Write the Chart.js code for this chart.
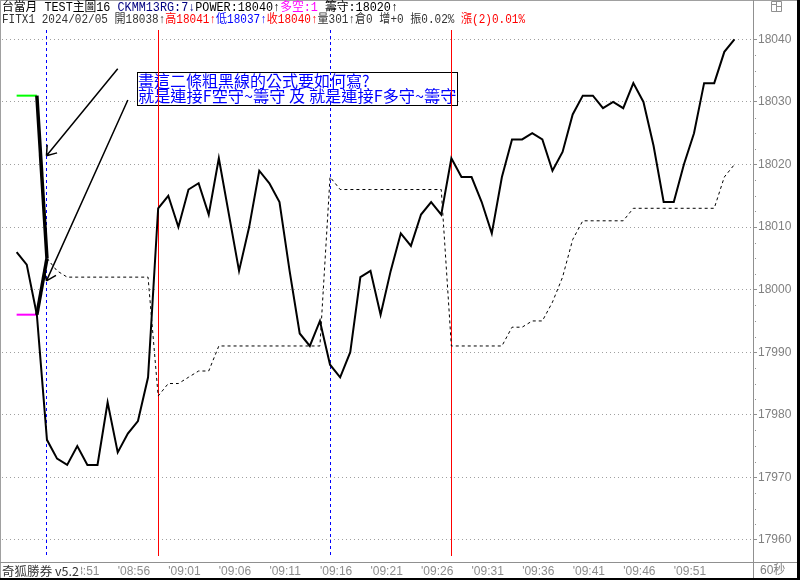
<!DOCTYPE html>
<html>
<head>
<meta charset="utf-8">
<script src="https://cdn.jsdelivr.net/npm/chart.js@4.4.1/dist/chart.umd.min.js"></script>
<style>
  html, body { margin: 0; padding: 0; background: #fff; }
  #wrap { width: 800px; height: 580px; position: relative; }
</style>
</head>
<body>
<div id="wrap"><canvas id="c" width="800" height="580"></canvas></div>
<script>
// ---------- data ----------
const times = ['08:46','08:47','08:48','08:49','08:50','08:51','08:52','08:53','08:54','08:55',
  '08:56','08:57','08:58','08:59','09:00','09:01','09:02','09:03','09:04','09:05',
  '09:06','09:07','09:08','09:09','09:10','09:11','09:12','09:13','09:14','09:15',
  '09:16','09:17','09:18','09:19','09:20','09:21','09:22','09:23','09:24','09:25',
  '09:26','09:27','09:28','09:29','09:30','09:31','09:32','09:33','09:34','09:35',
  '09:36','09:37','09:38','09:39','09:40','09:41','09:42','09:43','09:44','09:45',
  '09:46','09:47','09:48','09:49','09:50','09:51','09:52','09:53','09:54','09:55',
  '09:56','09:57'];

const closes = [18006,18004,17996,17976,17973,17972,17975,17972,17972,17982,
  17974,17977,17979,17986,18013,18015,18010,18016,18017,18012,
  18021,18012,18003,18010,18019,18017,18014,18003,17993,17991,
  17995,17988,17986,17990,18002,18003,17996,18003,18009,18007,
  18012,18014,18012,18021,18018,18018,18014,18009,18018,18024,
  18024,18025,18024,18019,18022,18028,18031,18031,18029,18030,
  18029,18033,18030,18023,18014,18014,18020,18025,18033,18033,
  18038,18040];

// 籌守 line (dashed)
const chipStop = [null,null,null,18005,18003,18002,18002,18002,18002,18002,
  18002,18002,18002,18002,17983,17985,17985,17986,17987,17987,
  17991,17991,17991,17991,17991,17991,17991,17991,17991,17991,
  17991,18018,18016,18016,18016,18016,18016,18016,18016,18016,
  18016,18016,18016,17991,17991,17991,17991,17991,17991,17994,
  17994,17995,17995,17998,18002,18008,18011,18011,18011,18011,
  18011,18013,18013,18013,18013,18013,18013,18013,18013,18013,
  18018,18020];

// F空守 / F多守 marks at the start (bars 0..2) and the two thick lines to 籌守 at bar 3
const fShortStop = 18031;   // green
const fLongStop  = 17996;   // magenta
const markBars   = [0, 2];
const thickFrom  = 2;
const thickTo    = 3;

// signal bars (vertical lines)
const signalBars  = [3, 14, 31, 43];
const signalTypes = ['空', '多', '空', '多'];

const yTicks = [17960,17970,17980,17990,18000,18010,18020,18030,18040];
const xTickTimes = ['08:51','08:56','09:01','09:06','09:11','09:16','09:21','09:26','09:31','09:36','09:41','09:46','09:51'];

// annotations (data coordinates: bar index, price)
const arrows = [
  {from: [10.0, 18035.3], to: [2.95, 18021.4]},
  {from: [11.0, 18030.3], to: [2.95, 18001.4]}
];
const noteLines = ['畫這二條粗黑線的公式要如何寫?', '就是連接F空守~籌守 及 就是連接F多守~籌守'];
const noteBox = {x1: 11.9, x2: 43.6, y1: 18034.8, y2: 18029.5};

const header1 = [
  ['台當月 TEST主圖16 ', '#000000'],
  ['CKMM13RG:7↓', '#000080'],
  ['POWER:18040↑', '#000000'],
  ['多空:1', '#ff00ff'],
  [' 籌守:18020↑', '#000000']
];
const header2 = [
  ['FITX1 2024/02/05 開18038↑', '#333333'],
  ['高18041↑', '#ff0000'],
  ['低18037↑', '#0000ff'],
  ['收18040↑', '#ff0000'],
  ['量301↑倉0 增+0 振0.02% ', '#333333'],
  ['漲(2)0.01%', '#ff0000']
];

// ---------- helpers ----------
function toXY(arr) { return arr.map((v, i) => ({x: i, y: v})); }

function drawSegs(ctx, segs, x, yc, targetW, font) {
  ctx.save();
  ctx.font = font;
  ctx.textBaseline = 'middle';
  ctx.textAlign = 'left';
  let total = 0;
  segs.forEach(s => total += ctx.measureText(s[0]).width);
  const sc = targetW / total;
  ctx.translate(x, yc);
  ctx.scale(sc, 1);
  let cx = 0;
  segs.forEach(s => {
    ctx.fillStyle = s[1];
    ctx.fillText(s[0], cx, 0);
    cx += ctx.measureText(s[0]).width;
  });
  ctx.restore();
}

function arrow(ctx, x1, y1, x2, y2) {
  ctx.beginPath();
  ctx.moveTo(x1, y1); ctx.lineTo(x2, y2);
  const a = Math.atan2(y1 - y2, x1 - x2);
  const L = 11, w = 0.62;
  ctx.moveTo(x2, y2); ctx.lineTo(x2 + L * Math.cos(a + w), y2 + L * Math.sin(a + w));
  ctx.moveTo(x2, y2); ctx.lineTo(x2 + L * Math.cos(a - w), y2 + L * Math.sin(a - w));
  ctx.stroke();
}

const decor = {
  id: 'decor',
  beforeDraw(chart) {
    const ctx = chart.ctx;
    ctx.save();
    ctx.fillStyle = '#ffffff';
    ctx.fillRect(0, 0, chart.width, chart.height);
    ctx.restore();
  },
  beforeDatasetsDraw(chart) {
    const ctx = chart.ctx, xs = chart.scales.x, ys = chart.scales.y, ca = chart.chartArea;
    // note box
    const bx1 = xs.getPixelForValue(noteBox.x1), bx2 = xs.getPixelForValue(noteBox.x2);
    const by1 = ys.getPixelForValue(noteBox.y1), by2 = ys.getPixelForValue(noteBox.y2);
    ctx.save();
    ctx.fillStyle = '#ffffff';
    ctx.fillRect(bx1, by1, bx2 - bx1, by2 - by1);
    ctx.strokeStyle = '#000000';
    ctx.lineWidth = 1;
    ctx.strokeRect(Math.round(bx1) + 0.5, Math.round(by1) + 0.5, Math.round(bx2 - bx1), Math.round(by2 - by1));
    ctx.font = '16px "Noto Sans CJK TC", sans-serif';
    ctx.textBaseline = 'middle';
    ctx.fillStyle = '#0000ff';
    ctx.fillText(noteLines[0], bx1 + 1, by1 + 9);
    drawSegs(ctx, [[noteLines[1], '#0000ff']], bx1 + 1, by1 + 24, bx2 - bx1 - 2, '16px "Noto Sans CJK TC", sans-serif');
    // signal lines
    signalBars.forEach((b, k) => {
      const px = Math.floor(xs.getPixelForValue(b)) + 0.5;
      ctx.beginPath();
      ctx.lineWidth = 1;
      if (signalTypes[k] === '空') {
        ctx.strokeStyle = '#0000ff';
        ctx.setLineDash([3, 3]);
      } else {
        ctx.strokeStyle = '#ff0000';
        ctx.setLineDash([]);
      }
      ctx.moveTo(px, ca.top);
      ctx.lineTo(px, ca.bottom);
      ctx.stroke();
    });
    ctx.restore();
  },
  afterDraw(chart) {
    const ctx = chart.ctx, xs = chart.scales.x, ys = chart.scales.y, ca = chart.chartArea;
    ctx.save();
    // arrows
    ctx.strokeStyle = '#000000';
    ctx.lineWidth = 1.5;
    arrows.forEach(a => arrow(ctx,
      xs.getPixelForValue(a.from[0]), ys.getPixelForValue(a.from[1]),
      xs.getPixelForValue(a.to[0]), ys.getPixelForValue(a.to[1])));

    // frame
    ctx.lineWidth = 1;
    ctx.strokeStyle = '#a0a0a0';
    ctx.beginPath();
    ctx.moveTo(0, 0.5); ctx.lineTo(800, 0.5);
    ctx.moveTo(0.5, 0); ctx.lineTo(0.5, 580);
    ctx.stroke();
    ctx.strokeStyle = '#909090';
    ctx.beginPath();
    const axX = Math.round(ca.right) + 0.5;
    ctx.moveTo(axX, 0); ctx.lineTo(axX, 580);
    ctx.moveTo(0, 562.5); ctx.lineTo(798, 562.5);
    ctx.stroke();
    ctx.fillStyle = '#000000';
    ctx.fillRect(0, 578, 800, 2);
    ctx.fillRect(797, 0, 3, 580);

    // minor ticks on the price axis
    ctx.fillStyle = '#909090';
    for (let k = 0; k < yTicks.length - 1; k++) {
      for (let m = 1; m <= 3; m++) {
        const v = yTicks[k] + m * (yTicks[k + 1] - yTicks[k]) / 4;
        const py = Math.round(ys.getPixelForValue(v));
        ctx.fillRect(axX + 1.5, py, 1, 1);
      }
    }

    // window icon
    ctx.strokeStyle = '#909090';
    ctx.beginPath();
    ctx.rect(771.5, 1.5, 10, 10);
    ctx.moveTo(776.5, 1.5); ctx.lineTo(776.5, 11.5);
    ctx.moveTo(776.5, 6.5); ctx.lineTo(781.5, 6.5);
    ctx.moveTo(771.5, 4.5); ctx.lineTo(776.5, 4.5);
    ctx.stroke();

    // header
    const hf = '12px "Liberation Mono", "Noto Sans CJK TC", monospace';
    drawSegs(ctx, header1, 2, 8, 396, hf);
    drawSegs(ctx, header2, 2, 20, 523, hf);

    // bottom left label (covers first time label)
    ctx.fillStyle = '#ffffff';
    ctx.fillRect(1, 564, 80, 14);
    drawSegs(ctx, [['奇狐勝券 v5.2', '#333333']], 2, 571, 77, '12px "Noto Sans CJK TC", sans-serif');
    // period label
    ctx.font = '12px "Liberation Sans", "Noto Sans CJK TC", sans-serif';
    ctx.fillStyle = '#808080';
    ctx.textBaseline = 'middle';
    ctx.fillText('60秒', 760, 571);
    ctx.restore();
  }
};

const thin = {pointRadius: 0, tension: 0, fill: false};

new Chart(document.getElementById('c'), {
  type: 'line',
  data: {
    datasets: [
      Object.assign({label: '收', data: toXY(closes), borderColor: '#000000', borderWidth: 2}, thin),
      Object.assign({label: 'F空守~籌守', data: [{x: thickFrom, y: fShortStop}, {x: thickTo, y: chipStop[thickTo]}], borderColor: '#000000', borderWidth: 3.5}, thin),
      Object.assign({label: 'F多守~籌守', data: [{x: thickFrom, y: fLongStop}, {x: thickTo, y: chipStop[thickTo]}], borderColor: '#000000', borderWidth: 3.5}, thin),
      Object.assign({label: 'F空守', data: markBars.map(b => ({x: b, y: fShortStop})), borderColor: '#00ff00', borderWidth: 2}, thin),
      Object.assign({label: 'F多守', data: markBars.map(b => ({x: b, y: fLongStop})), borderColor: '#ff00ff', borderWidth: 2}, thin),
      Object.assign({label: '籌守', data: toXY(chipStop), borderColor: '#000000', borderWidth: 1, borderDash: [3, 3], spanGaps: false}, thin)
    ]
  },
  options: {
    responsive: false,
    devicePixelRatio: 1,
    animation: false,
    events: [],
    layout: {padding: {left: 2, top: 30, right: 0, bottom: 0}},
    plugins: {legend: {display: false}, tooltip: {enabled: false}},
    scales: {
      x: {
        type: 'linear',
        min: -1.447,
        max: 72.836,
        afterFit: s => { s.height = 24; },
        afterBuildTicks: s => { s.ticks = xTickTimes.map(t => ({value: times.indexOf(t)})); },
        grid: {display: false},
        border: {display: false},
        ticks: {
          autoSkip: false, maxRotation: 0, minRotation: 0, align: 'start', padding: 0,
          color: '#8c8c8c',
          font: {family: '"Liberation Sans", sans-serif', size: 12},
          callback: v => "'" + times[v]
        }
      },
      y: {
        type: 'linear',
        position: 'right',
        min: 17957.44,
        max: 18041.49,
        afterFit: s => { s.width = 47; },
        afterBuildTicks: s => { s.ticks = yTicks.map(v => ({value: v})); },
        grid: {color: '#a0a0a0', lineWidth: 1, drawTicks: true, tickLength: 4, tickColor: '#909090'},
        border: {display: false, dash: [1, 3]},
        ticks: {
          padding: 1,
          color: '#808080',
          font: {family: '"Liberation Sans", sans-serif', size: 12},
          callback: v => String(v)
        }
      }
    }
  },
  plugins: [decor]
});
</script>
</body>
</html>
